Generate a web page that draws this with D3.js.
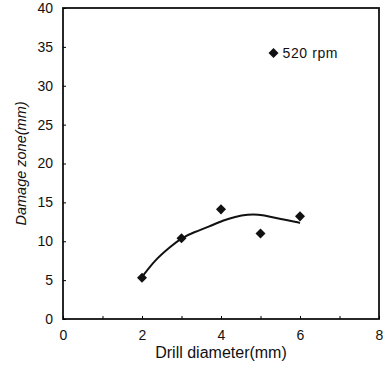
<!DOCTYPE html>
<html>
<head>
<meta charset="utf-8">
<script src="https://cdn.jsdelivr.net/npm/d3@7"></script>
<style>
  body { margin: 0; background: #fff; }
  text { font-family: "Liberation Sans", Arial, sans-serif; fill: #111; }
</style>
</head>
<body>
<div id="chart-area"></div>
<script>
// measured points, 520 rpm
const diameters = [2, 3, 4, 5, 6];
const damage = [5.3, 10.4, 14.1, 11.0, 13.2];

// trend curve
const curveX = [2, 2.33, 2.67, 3, 3.34, 3.68, 4.06, 4.35, 4.69, 4.94, 5.2, 5.54, 5.92, 6];
const curveY = [5.4, 7.6, 9.1, 10.45, 11.2, 11.85, 12.7, 13.15, 13.45, 13.45, 13.2, 12.85, 12.45, 12.35];

const xTicks = [0, 2, 4, 6, 8];
const yTicks = [0, 5, 10, 15, 20, 25, 30, 35, 40];
const legendLabel = '520 rpm';

const margin = { left: 63, right: 4, top: 8, bottom: 47 };
const width = 383 - margin.left - margin.right;
const height = 366 - margin.top - margin.bottom;

const svg = d3.select('#chart-area')
  .append('svg')
  .attr('width', 383)
  .attr('height', 366);

const g = svg.append('g')
  .attr('transform', 'translate(' + margin.left + ', ' + margin.top + ')');

const x = d3.scaleLinear().domain([0, 8]).range([0, width]);
const y = d3.scaleLinear().domain([0, 40]).range([height, 0]);

// frame
g.append('rect')
  .attr('width', width)
  .attr('height', height)
  .attr('fill', 'none')
  .attr('stroke', '#111')
  .attr('stroke-width', 1.8);

// x axis
const xAxis = g.append('g')
  .attr('transform', 'translate(0, ' + height + ')')
  .call(d3.axisBottom(x).tickValues(d3.range(0, 9, 1)).tickSize(-3).tickPadding(11)
    .tickFormat(d => xTicks.includes(d) ? d : ''));
xAxis.select('.domain').remove();
xAxis.selectAll('text').attr('font-size', '14px');

// y axis
const yAxis = g.append('g')
  .call(d3.axisLeft(y).tickValues(yTicks).tickSize(-3).tickPadding(10));
yAxis.select('.domain').remove();
yAxis.selectAll('text').attr('font-size', '14px');

// axis labels
g.append('text')
  .attr('x', width / 2)
  .attr('y', height + 39)
  .attr('font-size', '16px')
  .attr('text-anchor', 'middle')
  .text('Drill diameter(mm)');

g.append('text')
  .attr('x', -(height / 2))
  .attr('y', -37)
  .attr('font-size', '14.5px')
  .attr('font-style', 'italic')
  .attr('text-anchor', 'middle')
  .attr('transform', 'rotate(-90)')
  .text('Damage zone(mm)');

// trend curve
const line = d3.line()
  .x(d => x(d[0]))
  .y(d => y(d[1]))
  .curve(d3.curveBasis);

g.append('path')
  .datum(d3.zip(curveX, curveY))
  .attr('d', line)
  .attr('fill', 'none')
  .attr('stroke', '#111')
  .attr('stroke-width', 2);

// markers
const diamond = d3.symbol().type(d3.symbolDiamond2).size(64);
g.selectAll('.pt')
  .data(d3.zip(diameters, damage))
  .enter()
  .append('path')
  .attr('class', 'pt')
  .attr('d', diamond)
  .attr('transform', d => 'translate(' + x(d[0]) + ',' + y(d[1]) + ')')
  .attr('fill', '#111');

// legend
const lg = g.append('g')
  .attr('transform', 'translate(' + x(5.33) + ',' + y(34.2) + ')');
lg.append('path').attr('d', diamond).attr('fill', '#111');
lg.append('text')
  .attr('x', 9)
  .attr('y', 5)
  .attr('font-size', '14px')
  .attr('letter-spacing', '0.6px')
  .text(legendLabel);
</script>
</body>
</html>
